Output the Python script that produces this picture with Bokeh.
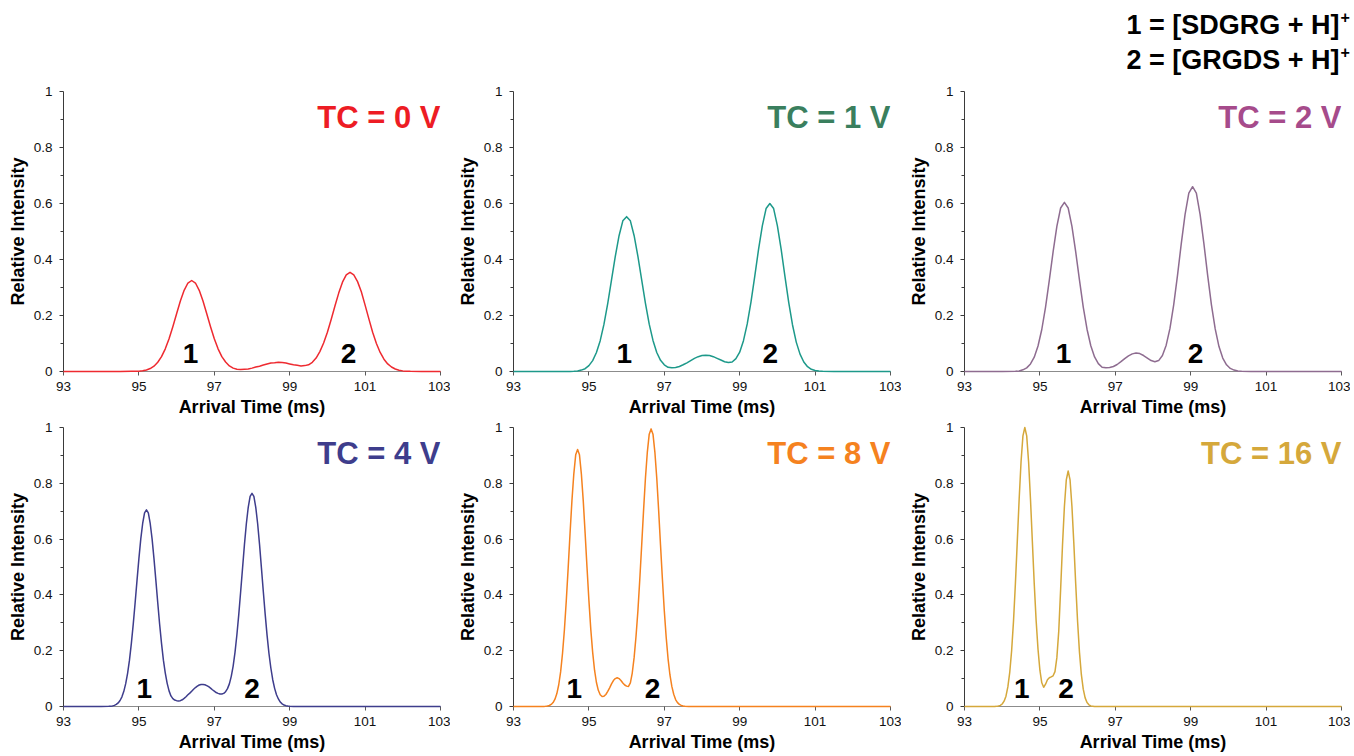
from bokeh.plotting import figure
from bokeh.models import Range1d, FixedTicker, CustomJSTickFormatter, Label
from bokeh.layouts import gridplot, column
from bokeh.embed import file_html
from bokeh.resources import INLINE
from bokeh.core.properties import value

FONT = "Liberation Sans"

# ---------------- data ----------------
titles = ["TC = 0 V", "TC = 1 V", "TC = 2 V", "TC = 4 V", "TC = 8 V", "TC = 16 V"]
x_ticks = [93, 95, 97, 99, 101, 103]
y_ticks = [0, 0.2, 0.4, 0.6, 0.8, 1]
y_minor = [0.1, 0.3, 0.5, 0.7, 0.9]
legend_lines = ["1 = [SDGRG + H]", "2 = [GRGDS + H]"]
peak_names = ["1", "2"]
peak1_x = [96.37, 95.94, 95.63, 95.14, 94.61, 94.52]
peak2_x = [100.56, 99.81, 99.13, 98.00, 96.69, 95.69]

tc0_x = [93.0, 94.0, 94.5, 94.8,
         95.0, 95.1, 95.2, 95.3, 95.4, 95.5, 95.6, 95.7, 95.8, 95.9,
         96.0, 96.1, 96.2, 96.3, 96.4, 96.5, 96.6, 96.7, 96.8, 96.9,
         97.0, 97.1, 97.2, 97.3, 97.4, 97.5, 97.6, 97.7, 97.8, 97.9,
         98.0, 98.1, 98.2, 98.3, 98.4, 98.5, 98.6, 98.7, 98.8, 98.9,
         99.0, 99.1, 99.2, 99.3, 99.4, 99.5, 99.6, 99.7, 99.8, 99.9,
         100.0, 100.1, 100.2, 100.3, 100.4, 100.5, 100.6, 100.7, 100.8, 100.9,
         101.0, 101.1, 101.2, 101.3, 101.4, 101.5, 101.6, 101.7, 101.8, 101.9,
         102.0, 102.1, 102.2, 102.5, 103.0]
tc0_y = [0.0, 0.0, 0.0002, 0.0006,
         0.0013, 0.0027, 0.0055, 0.0105, 0.019, 0.033, 0.053, 0.081, 0.117, 0.160,
         0.206, 0.252, 0.290, 0.316, 0.325, 0.316, 0.290, 0.252, 0.206, 0.160,
         0.117, 0.081, 0.053, 0.034, 0.020, 0.012, 0.008, 0.007, 0.008, 0.009,
         0.012, 0.016, 0.019, 0.023, 0.027, 0.030, 0.031, 0.033, 0.032, 0.030,
         0.027, 0.024, 0.022, 0.020, 0.021, 0.024, 0.033, 0.048, 0.071, 0.102,
         0.140, 0.186, 0.234, 0.280, 0.319, 0.345, 0.354, 0.345, 0.321, 0.285,
         0.237, 0.188, 0.140, 0.100, 0.068, 0.044, 0.027, 0.016, 0.009, 0.0045,
         0.0022, 0.0011, 0.0005, 0.0, 0.0]

tc1_x = [93.0, 94.0, 94.5, 94.6, 94.7, 94.8, 94.9,
         95.0, 95.1, 95.2, 95.3, 95.4, 95.5, 95.6, 95.7, 95.8, 95.9,
         96.0, 96.1, 96.2, 96.3, 96.4, 96.5, 96.6, 96.7, 96.8, 96.9,
         97.0, 97.1, 97.2, 97.3, 97.4, 97.5, 97.6, 97.7, 97.8, 97.9,
         98.0, 98.1, 98.2, 98.3, 98.4, 98.5, 98.6, 98.7, 98.8, 98.9,
         99.0, 99.1, 99.2, 99.3, 99.4, 99.5, 99.6, 99.7, 99.8, 99.9,
         100.0, 100.1, 100.2, 100.3, 100.4, 100.5, 100.6, 100.7, 100.8, 100.9,
         101.0, 101.1, 101.2, 101.5, 103.0]
tc1_y = [0.0, 0.0, 0.0003, 0.001, 0.002, 0.005, 0.010,
         0.021, 0.039, 0.068, 0.110, 0.169, 0.243, 0.327, 0.411, 0.485, 0.538,
         0.553, 0.538, 0.485, 0.411, 0.327, 0.243, 0.169, 0.111, 0.068, 0.040,
         0.024, 0.015, 0.013, 0.014, 0.018, 0.024, 0.031, 0.039, 0.047, 0.053,
         0.057, 0.058, 0.057, 0.053, 0.047, 0.041, 0.035, 0.032, 0.034, 0.046,
         0.069, 0.110, 0.170, 0.249, 0.341, 0.436, 0.520, 0.582, 0.600, 0.582,
         0.520, 0.436, 0.340, 0.247, 0.167, 0.105, 0.062, 0.034, 0.017, 0.008,
         0.0036, 0.0015, 0.0005, 0.0, 0.0]

tc2_x = [93.0, 94.0, 94.35, 94.45, 94.55, 94.65, 94.75, 94.85, 94.95,
         95.05, 95.15, 95.25, 95.35, 95.45, 95.55, 95.65, 95.75, 95.85, 95.95,
         96.05, 96.15, 96.25, 96.35, 96.45, 96.55, 96.65, 96.75, 96.85, 96.95,
         97.05, 97.15, 97.25, 97.35, 97.45, 97.55, 97.65, 97.75, 97.85, 97.95,
         98.05, 98.15, 98.25, 98.35, 98.45, 98.55, 98.65, 98.75, 98.85, 98.95,
         99.05, 99.15, 99.25, 99.35, 99.45, 99.55, 99.65, 99.75, 99.85, 99.95,
         100.05, 100.15, 100.25, 100.35, 100.6, 103.0]
tc2_y = [0.0, 0.0, 0.001, 0.002, 0.006, 0.013, 0.027, 0.051, 0.091,
         0.150, 0.230, 0.326, 0.427, 0.518, 0.584, 0.604, 0.584, 0.518, 0.427,
         0.326, 0.230, 0.151, 0.092, 0.052, 0.028, 0.015, 0.013, 0.014, 0.018,
         0.025, 0.035, 0.046, 0.056, 0.063, 0.066, 0.064, 0.057, 0.048, 0.039,
         0.035, 0.039, 0.057, 0.094, 0.154, 0.239, 0.343, 0.457, 0.560, 0.637,
         0.660, 0.637, 0.560, 0.457, 0.343, 0.238, 0.152, 0.089, 0.048, 0.024,
         0.011, 0.005, 0.002, 0.001, 0.0, 0.0]

tc4_x = [93.0, 94.0,
         94.20, 94.25, 94.30, 94.35, 94.40, 94.45, 94.50, 94.55, 94.60, 94.65,
         94.70, 94.75, 94.80, 94.85, 94.90, 94.95, 95.00, 95.05, 95.10, 95.15,
         95.20, 95.25, 95.30, 95.35, 95.40, 95.45, 95.50, 95.55, 95.60, 95.65,
         95.70, 95.75, 95.80, 95.85, 95.90, 95.95, 96.00, 96.05, 96.10, 96.15,
         96.20, 96.25, 96.30, 96.35, 96.40, 96.45, 96.50, 96.55, 96.60, 96.65,
         96.70, 96.75, 96.80, 96.85, 96.90, 96.95, 97.00, 97.05, 97.10, 97.15,
         97.20, 97.25, 97.30, 97.35, 97.40, 97.45, 97.50, 97.55, 97.60, 97.65,
         97.70, 97.75, 97.80, 97.85, 97.90, 97.95, 98.00, 98.05, 98.10, 98.15,
         98.20, 98.25, 98.30, 98.35, 98.40, 98.45, 98.50, 98.55, 98.60, 98.65,
         98.70, 98.75, 98.80, 98.85, 98.90, 98.95, 99.00, 99.1, 99.5, 103.0]
tc4_y = [0.0, 0.0,
         0.0006, 0.0011, 0.0022, 0.0041, 0.0074, 0.0128, 0.0215, 0.0348, 0.0544, 0.0818,
         0.119, 0.166, 0.226, 0.295, 0.372, 0.452, 0.530, 0.601, 0.656, 0.694,
         0.705, 0.694, 0.656, 0.601, 0.530, 0.452, 0.372, 0.295, 0.226, 0.166,
         0.120, 0.083, 0.056, 0.038, 0.028, 0.023, 0.021, 0.020, 0.021, 0.024,
         0.029, 0.035, 0.042, 0.048, 0.055, 0.062, 0.068, 0.073, 0.077, 0.079,
         0.079, 0.078, 0.075, 0.071, 0.066, 0.060, 0.055, 0.050, 0.047, 0.045,
         0.045, 0.047, 0.053, 0.064, 0.081, 0.108, 0.145, 0.195, 0.258, 0.331,
         0.413, 0.497, 0.581, 0.655, 0.714, 0.753, 0.764, 0.753, 0.714, 0.655,
         0.581, 0.497, 0.412, 0.330, 0.255, 0.190, 0.138, 0.096, 0.065, 0.042,
         0.027, 0.016, 0.0095, 0.0053, 0.0030, 0.0016, 0.0008, 0.0002, 0.0, 0.0]

tc8_x = [93.0, 93.8, 93.85,
         93.90, 93.95, 94.00, 94.05, 94.10, 94.15, 94.20, 94.25, 94.30, 94.35,
         94.40, 94.45, 94.50, 94.55, 94.60, 94.65, 94.70, 94.75, 94.80, 94.85,
         94.90, 94.95, 95.00, 95.05, 95.10, 95.15, 95.20, 95.25, 95.30, 95.35,
         95.40, 95.45, 95.50, 95.55, 95.60, 95.65, 95.70, 95.75, 95.80, 95.85,
         95.90, 95.95, 96.00, 96.05, 96.10, 96.15, 96.20, 96.25, 96.30, 96.35,
         96.40, 96.45, 96.50, 96.55, 96.60, 96.65, 96.70, 96.75, 96.80, 96.85,
         96.90, 96.95, 97.00, 97.05, 97.10, 97.15, 97.20, 97.25, 97.30, 97.35,
         97.40, 97.45, 97.50, 97.55, 97.65, 98.0, 103.0]
tc8_y = [0.0, 0.0, 0.0007,
         0.0017, 0.0036, 0.0073, 0.0142, 0.0263, 0.0464, 0.078, 0.124, 0.190, 0.274,
         0.379, 0.496, 0.621, 0.738, 0.834, 0.902, 0.921, 0.902, 0.834, 0.738,
         0.621, 0.498, 0.381, 0.277, 0.194, 0.130, 0.086, 0.058, 0.042, 0.036,
         0.037, 0.043, 0.054, 0.067, 0.081, 0.093, 0.100, 0.103, 0.100, 0.093,
         0.084, 0.077, 0.073, 0.072, 0.085, 0.120, 0.176, 0.252, 0.343, 0.456,
         0.578, 0.703, 0.819, 0.912, 0.976, 0.995, 0.976, 0.912, 0.819, 0.703,
         0.578, 0.456, 0.343, 0.248, 0.171, 0.113, 0.072, 0.044, 0.025, 0.014,
         0.0076, 0.0039, 0.0019, 0.0009, 0.0002, 0.0, 0.0]

tc16_x = [93.0, 93.8,
          93.85, 93.90, 93.95, 94.00, 94.05, 94.10, 94.15, 94.20, 94.25, 94.30,
          94.35, 94.40, 94.45, 94.50, 94.55, 94.60, 94.65, 94.70, 94.75, 94.80,
          94.85, 94.90, 94.95, 95.00, 95.05, 95.10, 95.15, 95.20, 95.25, 95.30,
          95.35, 95.40, 95.45, 95.50, 95.55, 95.60, 95.65, 95.70, 95.75, 95.80,
          95.85, 95.90, 95.95, 96.00, 96.05, 96.10, 96.15, 96.20, 96.25, 96.30,
          96.35, 96.45, 97.0, 103.0]
tc16_y = [0.0, 0.0,
          0.0005, 0.002, 0.004, 0.009, 0.019, 0.037, 0.070, 0.122, 0.200, 0.306,
          0.440, 0.591, 0.744, 0.877, 0.970, 1.000, 0.970, 0.877, 0.744, 0.591,
          0.440, 0.308, 0.205, 0.130, 0.085, 0.069, 0.080, 0.096, 0.103, 0.106,
          0.110, 0.125, 0.175, 0.270, 0.420, 0.580, 0.717, 0.812, 0.844, 0.812,
          0.717, 0.585, 0.439, 0.304, 0.194, 0.114, 0.062, 0.031, 0.014, 0.006,
          0.002, 0.0, 0.0, 0.0]

series_x = [tc0_x, tc1_x, tc2_x, tc4_x, tc8_x, tc16_x]
series_y = [tc0_y, tc1_y, tc2_y, tc4_y, tc8_y, tc16_y]

# ---------------- styles ----------------
line_colors = ["#EE2A30", "#1D998A", "#8E6C90", "#3E3D8C", "#F5821F", "#D5A83B"]
title_colors = ["#ED1C24", "#3A7F5E", "#A64B8B", "#3E3D8C", "#F5821F", "#D5A83B"]

LABEL_Y = 0.065  # anchor of peak numbers (data units)
TOTAL_W = 1350
HEADER_H = 80


def make_panel(i, width, height, bl, br, bt, bb):
    p = figure(width=width, height=height, x_range=Range1d(93, 103), y_range=Range1d(0, 1),
               output_backend="svg", toolbar_location=None, tools="",
               min_border_left=bl, min_border_right=br, min_border_top=bt, min_border_bottom=bb)
    p.outline_line_color = None
    p.xgrid.visible = False
    p.ygrid.visible = False
    p.background_fill_color = "white"
    p.border_fill_color = "white"

    xs, ys = series_x[i], series_y[i]
    assert len(xs) == len(ys), (i, len(xs), len(ys))
    r = p.line(xs, ys, line_color=line_colors[i], line_width=1.5, line_join="round")
    r.level = "overlay"

    p.text(x=[peak1_x[i], peak2_x[i]], y=[LABEL_Y, LABEL_Y], text=peak_names,
           text_align="center", text_baseline="alphabetic",
           text_font=value(FONT), text_font_style="bold", text_font_size="28px",
           text_color="black")

    p.add_layout(Label(x=103, y=1, x_offset=0, y_offset=-26, text=titles[i],
                       text_align="right", text_baseline="alphabetic",
                       text_font=FONT, text_font_style="bold", text_font_size="31px",
                       text_color=title_colors[i]))

    xa = p.xaxis[0]
    xa.ticker = FixedTicker(ticks=x_ticks)
    xa.axis_label = "Arrival Time (ms)"
    xa.axis_line_color = "#8C8C8C"
    xa.major_tick_line_color = "#595959"
    xa.major_tick_out = 4
    xa.major_tick_in = 0
    xa.minor_tick_line_color = None
    xa.major_label_standoff = 6
    xa.major_label_text_font = FONT
    xa.major_label_text_font_size = "13.5px"
    xa.major_label_text_color = "#111111"
    xa.axis_label_text_font = FONT
    xa.axis_label_text_font_style = "bold"
    xa.axis_label_text_font_size = "18px"
    xa.axis_label_text_color = "black"
    xa.axis_label_standoff = 3

    ya = p.yaxis[0]
    ya.ticker = FixedTicker(ticks=y_ticks, minor_ticks=y_minor)
    ya.formatter = CustomJSTickFormatter(code="return tick.toFixed(1).replace(/\\.0$/, '');")
    ya.axis_label = "Relative Intensity"
    ya.axis_line_color = "#3A3A3A"
    ya.major_tick_line_color = "#3A3A3A"
    ya.minor_tick_line_color = "#3A3A3A"
    ya.major_tick_out = 4
    ya.major_tick_in = 0
    ya.minor_tick_out = 3
    ya.minor_tick_in = 0
    ya.major_label_standoff = 7
    ya.major_label_text_font = FONT
    ya.major_label_text_font_size = "13.5px"
    ya.major_label_text_color = "#111111"
    ya.axis_label_text_font = FONT
    ya.axis_label_text_font_style = "bold"
    ya.axis_label_text_font_size = "18px"
    ya.axis_label_text_color = "black"
    ya.axis_label_standoff = 3
    return p


col_w = [450, 451, 449]
col_br = [10, 11, 9]
figs = []
for i in range(6):
    c = i % 3
    if i < 3:
        p = make_panel(i, col_w[c], 339, 63, col_br[c], 11, 47)
    else:
        p = make_panel(i, col_w[c], 335, 63, col_br[c], 8, 46)
    figs.append(p)

# header strip holding the compound key (top right)
hdr = figure(width=TOTAL_W, height=HEADER_H, x_range=Range1d(0, TOTAL_W), y_range=Range1d(0, HEADER_H),
             output_backend="svg", toolbar_location=None, tools="",
             x_axis_location=None, y_axis_location=None, min_border=0)
hdr.outline_line_color = None
hdr.grid.visible = False
hdr.background_fill_color = "white"
hdr.border_fill_color = "white"
key_right = 1339
key_base = [56.0, 21.0]
hdr.text(x=[key_right, key_right], y=key_base, text=legend_lines,
         text_align="right", text_baseline="alphabetic",
         text_font=value(FONT), text_font_style="bold", text_font_size="27px",
         text_color="black")
hdr.text(x=[key_right + 1, key_right + 1], y=[b + 8 for b in key_base], text=["+", "+"],
         text_align="left", text_baseline="alphabetic",
         text_font=value(FONT), text_font_style="bold", text_font_size="16px",
         text_color="black")

grid = gridplot([figs[0:3], figs[3:6]], toolbar_location=None)
layout = column(hdr, grid)

open("out.html", "w").write(file_html(layout, INLINE, title="Arrival time distributions"))
